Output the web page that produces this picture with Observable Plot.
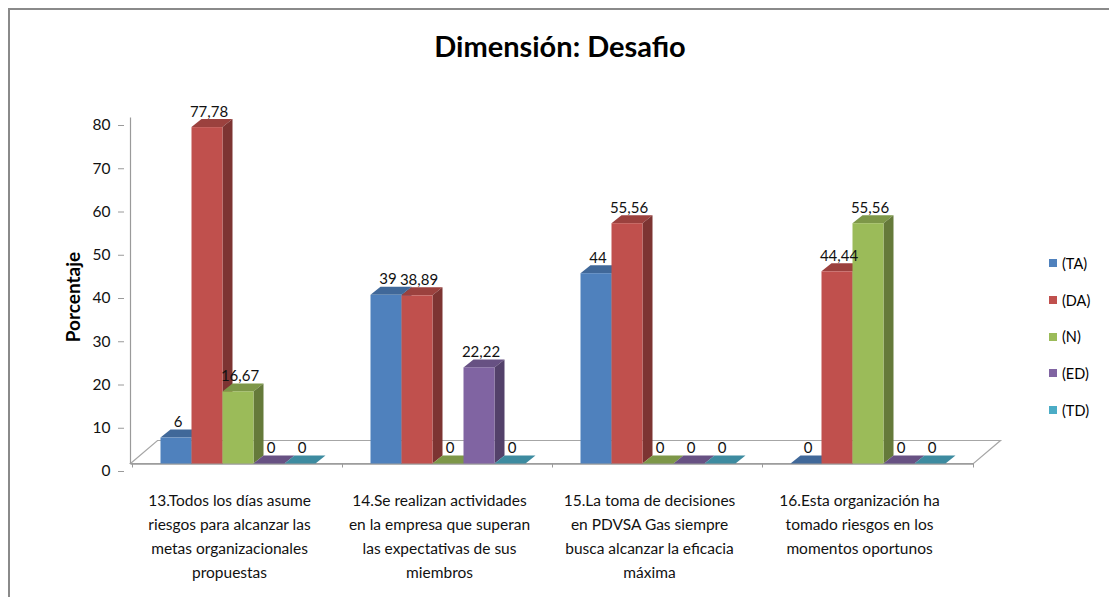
<!DOCTYPE html>
<html>
<head>
<meta charset="utf-8">
<script src="https://cdn.jsdelivr.net/npm/d3@7"></script>
<script src="https://cdn.jsdelivr.net/npm/@observablehq/plot@0.6"></script>
<style>
  html, body { margin: 0; padding: 0; background: #fff; }
  body { font-family: Lato, "Open Sans", sans-serif; color: #000; }
  #wrap { position: relative; width: 1109px; height: 597px; overflow: hidden; background: #fff; }
  #border { position: absolute; left: 8px; top: 8px; width: 1300px; height: 800px;
            border-top: 2px solid #8a8a8a; border-left: 2px solid #8a8a8a; box-sizing: border-box; }
  #title { position: absolute; left: 0; width: 1120px; top: 27px; text-align: center;
           font-weight: bold; font-size: 29px; line-height: 38px; }
  #ylabel { position: absolute; left: 72px; top: 297px; transform: translate(-50%, -50%) rotate(-90deg);
            font-weight: bold; font-size: 19px; white-space: nowrap; }
  #legend { position: absolute; left: 1049px; top: 245px; font-size: 14.5px; }
  #legend .item { height: 36.7px; display: flex; align-items: center; }
  #legend .sw { width: 8px; height: 8px; margin-right: 5px; }
  #chart { position: absolute; left: 0; top: 0; }
</style>
</head>
<body>
<div id="wrap">
  <div id="border"></div>
  <div id="chart"></div>
  <div id="title">Dimensión: Desafio</div>
  <div id="ylabel">Porcentaje</div>
  <div id="legend"></div>
</div>
<script>
// ---- data ----
const categories = ["13", "14", "15", "16"];
const categoryLabels = [
  "13.Todos los días asume\nriesgos para alcanzar las\nmetas organizacionales\npropuestas",
  "14.Se realizan actividades\nen la empresa que superan\nlas expectativas de sus\nmiembros",
  "15.La toma de decisiones\nen PDVSA Gas siempre\nbusca alcanzar la eficacia\nmáxima",
  "16.Esta organización ha\ntomado riesgos en los\nmomentos oportunos"
];
const series = ["(TA)", "(DA)", "(N)", "(ED)", "(TD)"];
const TA = [6, 39, 44, 0];
const DA = [77.78, 38.89, 55.56, 44.44];
const N  = [16.67, 0, 0, 55.56];
const ED = [0, 22.22, 0, 0];
const TD = [0, 0, 0, 0];
const yTicks = [0, 10, 20, 30, 40, 50, 60, 70, 80];
const colors = ["#4F81BD", "#C0504D", "#9BBB59", "#8064A2", "#4BACC6"];

const seriesValues = [TA, DA, N, ED, TD];
const rows = [];
categories.forEach((c, i) => {
  series.forEach((s, j) => rows.push({cat: c, series: s, value: seriesValues[j][i]}));
});
const labelOf = Object.fromEntries(categories.map((c, i) => [c, categoryLabels[i]]));
const fmt = v => String(v).replace(".", ",");

// 3D depth offsets (pixels)
const BX = 8.5, BY = -7.5;      // bar front-face offset (middle of floor depth)
const DX = 10, DY = 8;          // bar depth
const FX = 27, FY = 23;         // floor depth

const chart = Plot.plot({
  width: 1109,
  height: 597,
  marginLeft: 122,
  marginRight: 144,
  marginTop: 125,
  marginBottom: 126,
  style: {fontFamily: "Lato, 'Open Sans', sans-serif", fontSize: "15px", color: "#000", background: "transparent", overflow: "visible"},
  fx: {domain: categories, padding: 0, label: null},
  x: {domain: series, paddingInner: 0, paddingOuter: 0.8, axis: null},
  y: {domain: [0, 80], label: null},
  color: {domain: series, range: colors},
  marks: [
    Plot.axisY({ticks: yTicks, tickSize: 6, tickPadding: 8, label: null, stroke: "#9a9a9a", fill: "#111", fontSize: 15.5}),
    Plot.axisFx({anchor: "bottom", tickSize: 0, tickPadding: 17, label: null, tickFormat: c => labelOf[c],
                 lineHeight: 1.55, fontSize: 15.5, fill: "#111"}),
    Plot.barY(rows, {fx: "cat", x: "series", y: "value", fill: "series", dx: BX, dy: BY, className: "bar3d"}),
    Plot.text(rows, {fx: "cat", x: "series", y: "value", text: d => fmt(d.value), dx: BX + 1.5, dy: BY - 11,
                     lineAnchor: "bottom", fontSize: 15, fill: "#111"})
  ]
});

document.getElementById("chart").appendChild(chart);

// ---- 3D extras drawn from the library's own scales ----
const ns = "http://www.w3.org/2000/svg";
const fxS = chart.scale("fx"), yS = chart.scale("y");
const [xL, xR] = fxS.range;
const y0 = yS.apply(0), yTop = yS.apply(80);

function el(name, attrs) {
  const e = document.createElementNS(ns, name);
  for (const k in attrs) e.setAttribute(k, attrs[k]);
  return e;
}
const pts = a => a.map(p => p.join(",")).join(" ");

const firstBarG = chart.querySelector(".bar3d");
const under = el("g", {});
// floor
under.appendChild(el("polygon", {points: pts([[xL, y0], [xL + FX, y0 - FY], [xR + FX, y0 - FY], [xR, y0]]),
                                  fill: "#fff", stroke: "#a6a6a6", "stroke-width": 1.2}));
under.appendChild(el("line", {x1: xL, x2: xR, y1: y0 + 0.5, y2: y0 + 0.5, stroke: "#9a9a9a", "stroke-width": 1.5}));
// y axis line
under.appendChild(el("line", {x1: xL, x2: xL, y1: yTop, y2: y0, stroke: "#9a9a9a", "stroke-width": 1.2}));
// category boundary ticks
categories.concat([null]).forEach((c, i) => {
  const x = c === null ? xR : fxS.apply(c);
  under.appendChild(el("line", {x1: x, x2: x, y1: y0, y2: y0 + 4, stroke: "#9a9a9a"}));
});
firstBarG.parentNode.insertBefore(under, firstBarG);

// bar top and side faces
chart.querySelectorAll(".bar3d rect").forEach(r => {
  const x = +r.getAttribute("x"), y = +r.getAttribute("y");
  const w = +r.getAttribute("width"), h = +r.getAttribute("height");
  const fill = r.getAttribute("fill");
  const top = d3.color(fill).darker(0.6).formatHex();
  const side = d3.color(fill).darker(1.2).formatHex();
  const p = r.parentNode;
  p.insertBefore(el("polygon", {points: pts([[x, y], [x + DX, y - DY], [x + w + DX, y - DY], [x + w, y]]), fill: top}), r);
  if (h > 0) {
    p.insertBefore(el("polygon", {points: pts([[x + w, y], [x + w + DX, y - DY], [x + w + DX, y + h - DY], [x + w, y + h]]), fill: side}), r);
  }
});

// legend
const leg = document.getElementById("legend");
series.forEach((s, i) => {
  const it = document.createElement("div");
  it.className = "item";
  it.innerHTML = `<div class="sw" style="background:${colors[i]}"></div><span>${s}</span>`;
  leg.appendChild(it);
});
</script>
</body>
</html>
